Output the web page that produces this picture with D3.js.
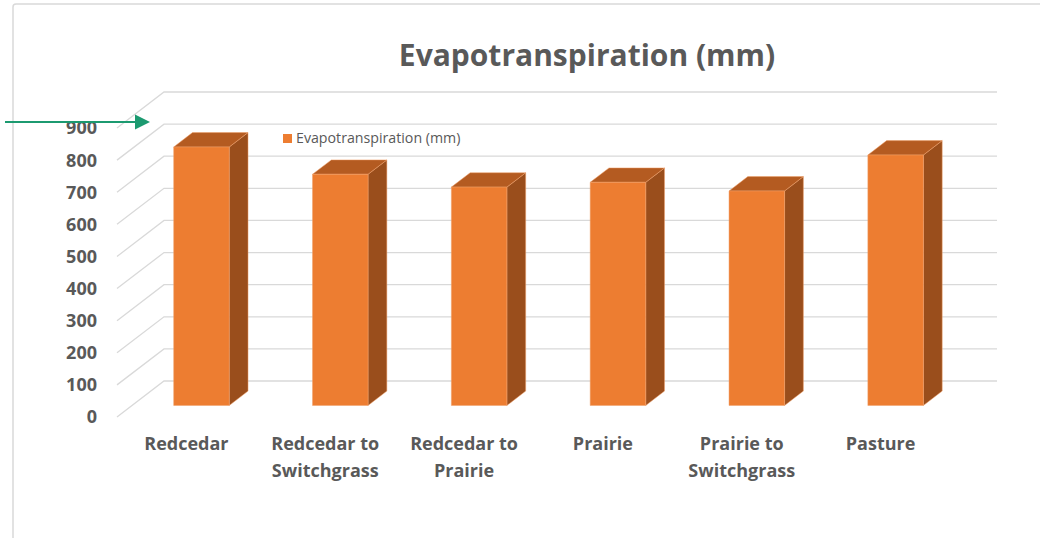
<!DOCTYPE html>
<html>
<head>
<meta charset="utf-8">
<script src="https://cdn.jsdelivr.net/npm/d3@7"></script>
<style>
  html, body { margin: 0; padding: 0; background: #fff; }
  svg { display: block; font-family: "Open Sans", "Noto Sans", sans-serif; }
</style>
</head>
<body>
<svg id="chart" width="1040" height="538"></svg>
<script>
// Evapotranspiration by land cover (mm)
const categories = ["Redcedar", "Redcedar to Switchgrass", "Redcedar to Prairie", "Prairie", "Prairie to Switchgrass", "Pasture"];
const etValues = [805, 720, 680, 695, 668, 780];
const yTicks = [0, 100, 200, 300, 400, 500, 600, 700, 800, 900];
const seriesName = "Evapotranspiration (mm)";
const chartTitle = "Evapotranspiration (mm)";

const svg = d3.select("#chart");

// Oblique 3D frame: front-left floor corner, plot width and depth vector
const x0 = 117, y0 = 417, frontRight = 950;
const depthX = 47, depthY = -36;
const barFront = 0.32, barDepth = 0.4;

const x = d3.scaleBand().domain(categories).range([x0, frontRight])
  .paddingInner(0.6).paddingOuter(0.3);
const y = d3.scaleLinear().domain([0, 900]).range([y0, y0 - 289]);

// project (screen x at depth 0, value, depth fraction)
const P = (sx, v, d) => [sx + d * depthX, y(v) + d * depthY];

// chart frame
svg.append("path")
  .attr("d", `M13,538 L13,7 Q13,4 16,4 L1040,4`)
  .attr("fill", "none").attr("stroke", "#d9d9d9").attr("stroke-width", 1.5);

// gridlines: side-wall diagonal then back wall
const grid = svg.append("g").attr("fill", "none").attr("stroke", "#d9d9d9").attr("stroke-width", 1.3);
yTicks.forEach(t => {
  const a = P(x0, t, 0), b = P(x0, t, 1), c = P(frontRight, t, 1);
  grid.append("path").attr("d", `M${a[0]},${a[1]} L${b[0]},${b[1]} L${c[0]},${c[1]}`);
});

// y tick labels
svg.append("g").selectAll("text").data(yTicks).join("text")
  .attr("x", 97).attr("y", d => y(d))
  .attr("dy", "0.36em")
  .attr("text-anchor", "end")
  .attr("font-weight", 700).attr("font-size", 18).attr("fill", "#595959")
  .text(d => d);

// bars
const bars = svg.append("g");
categories.forEach((c, i) => {
  const v = etValues[i];
  const xl = x(c), xr = x(c) + x.bandwidth();
  const d1 = barFront, d2 = barFront + barDepth;
  const g = bars.append("g").attr("stroke", "#f0a06a").attr("stroke-width", 0.5).attr("stroke-linejoin", "round");
  const poly = pts => "M" + pts.map(p => p.join(",")).join("L") + "Z";
  // side face
  g.append("path").attr("fill", "#9a4e1c")
    .attr("d", poly([P(xr, 0, d1), P(xr, 0, d2), P(xr, v, d2), P(xr, v, d1)]));
  // top face
  g.append("path").attr("fill", "#b45b21")
    .attr("d", poly([P(xl, v, d1), P(xr, v, d1), P(xr, v, d2), P(xl, v, d2)]));
  // front face
  g.append("path").attr("fill", "#ed7d31")
    .attr("d", poly([P(xl, 0, d1), P(xr, 0, d1), P(xr, v, d1), P(xl, v, d1)]));
});

// category labels (wrapped after "to")
const labels = svg.append("g")
  .attr("font-weight", 700).attr("font-size", 18).attr("fill", "#595959")
  .attr("text-anchor", "middle");
categories.forEach(c => {
  const cx = x(c) + x.bandwidth() / 2;
  const lines = c.includes(" to ") ? [c.split(" to ")[0] + " to", c.split(" to ")[1]] : [c];
  const t = labels.append("text").attr("x", cx).attr("y", 450);
  lines.forEach((ln, k) => t.append("tspan").attr("x", cx).attr("dy", k === 0 ? 0 : 27).text(ln));
});

// title
svg.append("text")
  .attr("x", 587).attr("y", 66)
  .attr("text-anchor", "middle")
  .attr("font-weight", 700).attr("font-size", 30).attr("fill", "#595959")
  .text(chartTitle);

// legend
svg.append("rect").attr("x", 283).attr("y", 134).attr("width", 9).attr("height", 9).attr("fill", "#ed7d31");
svg.append("text").attr("x", 296).attr("y", 138.5).attr("dy", "0.35em")
  .attr("font-size", 14.2).attr("fill", "#595959").text(seriesName);

// pointer arrow at the top of the value axis
svg.append("line").attr("x1", 5).attr("y1", 122).attr("x2", 137).attr("y2", 122)
  .attr("stroke", "#1c9a70").attr("stroke-width", 2.2);
svg.append("path").attr("d", "M135,114.5 L150,122 L135,129.5 Z").attr("fill", "#1c9a70");
</script>
</body>
</html>
